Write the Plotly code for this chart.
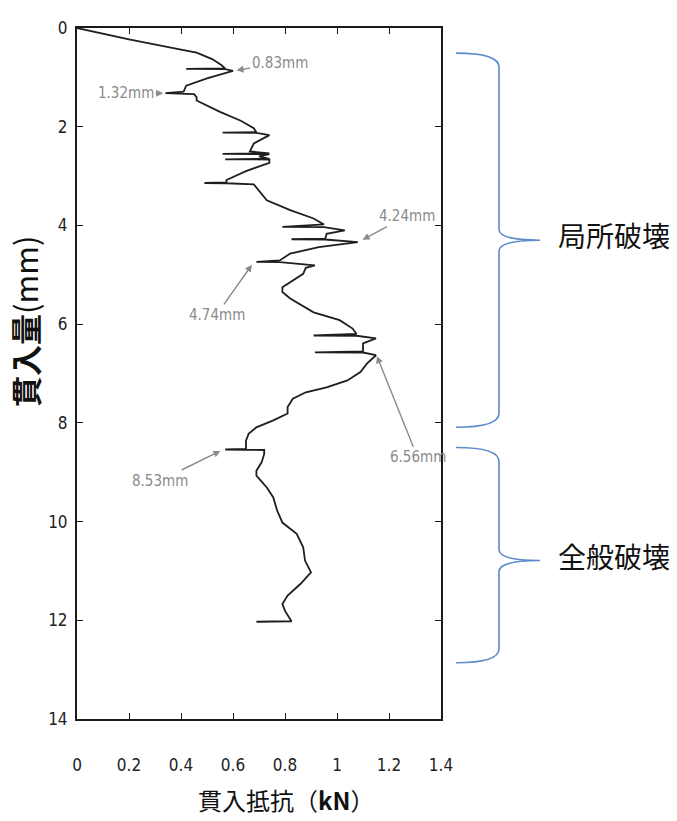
import plotly.graph_objects as go

# ---------------- data ----------------
LOAD_KN = [
    0.00, 0.20, 0.40, 0.46, 0.52, 0.555, 0.57,
    0.42, 0.57, 0.60, 0.50, 0.42, 0.41,
    0.34, 0.41, 0.45, 0.46, 0.46, 0.55, 0.63, 0.68, 0.69,
    0.56, 0.69, 0.74, 0.68, 0.665, 0.74,
    0.56, 0.74, 0.70, 0.74,
    0.57, 0.74, 0.74, 0.65, 0.575, 0.575,
    0.49, 0.575, 0.68, 0.70, 0.73, 0.82, 0.91, 0.95,
    0.79, 0.95, 1.03, 0.96, 0.955,
    0.825, 0.955, 1.08, 0.93, 0.82, 0.78,
    0.69, 0.78, 0.915, 0.88, 0.87, 0.83, 0.79, 0.79, 0.82, 0.91, 1.01, 1.06, 1.075,
    0.91, 1.075, 1.15, 1.10, 1.10,
    0.915, 1.10, 1.15, 1.115, 1.09, 1.04, 0.96, 0.88, 0.83, 0.81, 0.81, 0.755, 0.69, 0.66, 0.65, 0.65,
    0.57, 0.65, 0.72, 0.72, 0.71, 0.69, 0.69, 0.73, 0.755, 0.77, 0.79, 0.845, 0.87, 0.877, 0.90,
    0.86, 0.81, 0.79, 0.80, 0.825, 0.69,
]
DEPTH_MM = [
    0.00, 0.23, 0.44, 0.50, 0.63, 0.75, 0.82,
    0.83, 0.835, 0.87, 1.02, 1.17, 1.29,
    1.32, 1.325, 1.34, 1.40, 1.47, 1.70, 1.88, 2.03, 2.11,
    2.12, 2.125, 2.17, 2.34, 2.50, 2.54,
    2.55, 2.555, 2.60, 2.65,
    2.66, 2.665, 2.73, 2.90, 3.08, 3.13,
    3.14, 3.145, 3.17, 3.29, 3.49, 3.69, 3.86, 3.98,
    4.03, 4.035, 4.10, 4.17, 4.27,
    4.28, 4.285, 4.34, 4.44, 4.57, 4.71,
    4.74, 4.745, 4.81, 4.86, 4.98, 5.11, 5.25, 5.35, 5.48, 5.76, 5.92, 6.09, 6.20,
    6.23, 6.235, 6.29, 6.39, 6.55,
    6.57, 6.575, 6.63, 6.80, 6.97, 7.14, 7.28, 7.38, 7.51, 7.68, 7.81, 7.95, 8.09, 8.22, 8.36, 8.53,
    8.54, 8.545, 8.55, 8.63, 8.80, 8.97, 9.07, 9.31, 9.51, 9.78, 10.02, 10.25, 10.52, 10.79, 11.03,
    11.26, 11.50, 11.67, 11.81, 12.02, 12.03,
]

X_TICKS = [0, 0.2, 0.4, 0.6, 0.8, 1.0, 1.2, 1.4]
X_TICK_LABELS = ["0", "0.2", "0.4", "0.6", "0.8", "1", "1.2", "1.4"]
Y_TICKS = [0, 2, 4, 6, 8, 10, 12, 14]
Y_TICK_LABELS = ["0", "2", "4", "6", "8", "10", "12", "14"]

# annotated drop points (label, load at arrow head, depth at arrow head)
MARK_LABELS = ["0.83mm", "1.32mm", "4.24mm", "4.74mm", "6.56mm", "8.53mm"]
MARK_LOAD = [0.61, 0.335, 1.095, 0.675, 1.152, 0.555]
MARK_DEPTH = [0.86, 1.32, 4.30, 4.78, 6.63, 8.56]

# failure zones (label, start depth, tip depth, end depth)
ZONE_LABELS = ["局所破壊", "全般破壊"]
ZONE_START = [0.51, 8.50]
ZONE_TIP = [4.30, 10.79]
ZONE_END = [8.09, 12.86]

X_TITLE = "貫入抵抗（<b>kN</b>）"
Y_TITLE = "<b>貫入量</b>(mm)"

# ---------------- layout constants ----------------
W, H = 677, 821
ML, MR, MT, MB = 77, 236, 28, 102
PW = W - ML - MR
PH = H - MT - MB
YMAX = 14.0

NARROW = "Liberation Sans Narrow, Arial Narrow, DejaVu Sans Condensed, Liberation Sans, sans-serif"
CJK = "Noto Sans CJK JP, Noto Sans CJK SC, sans-serif"


def px_x(px):
    return (px - ML) / PW


def py_y(py):
    return 1 - (py - MT) / PH


def depth_to_paper(d):
    return 1 - d / YMAX


fig = go.Figure()
fig.add_trace(go.Scatter(
    x=LOAD_KN, y=DEPTH_MM, mode="lines",
    line=dict(color="#1e1e1e", width=1.8),
    hoverinfo="skip", showlegend=False,
))

# label text offsets (pixels relative to arrow head)
label_offsets = [(44, -7), (-38, 0), (45, -24), (-36, 51), (41, 102), (-61, 30)]
annotations = []
for lab, lx, ly, (dx, dy) in zip(MARK_LABELS, MARK_LOAD, MARK_DEPTH, label_offsets):
    annotations.append(dict(
        x=lx, y=ly, xref="x", yref="y", text=lab, showarrow=True,
        ax=dx, ay=dy, arrowhead=2, arrowsize=1, arrowwidth=1.4,
        arrowcolor="#8a8a8a", standoff=1, startstandoff=0,
        font=dict(family=NARROW, size=15, color="#8a8a8a"),
    ))

# axis titles
annotations.append(dict(
    x=px_x(286), y=py_y(799), xref="paper", yref="paper", text=X_TITLE,
    showarrow=False, font=dict(family=CJK, size=24, color="#111"),
    xanchor="center", yanchor="middle",
))
annotations.append(dict(
    x=px_x(25), y=py_y(322), xref="paper", yref="paper", text=Y_TITLE,
    showarrow=False, textangle=-90, font=dict(family=CJK, size=31, color="#111"),
    xanchor="center", yanchor="middle",
))

# braces
shapes = []
x0, xv, xt = px_x(456), px_x(499), px_x(540)
c_end = 14 / PH
c_tip = 11 / PH
for lab, ds, dt, de in zip(ZONE_LABELS, ZONE_START, ZONE_TIP, ZONE_END):
    yt, ym, yb = depth_to_paper(ds), depth_to_paper(dt), depth_to_paper(de)
    path = (
        f"M {x0},{yt} Q {xv},{yt} {xv},{yt - c_end} "
        f"L {xv},{ym + c_tip} Q {xv},{ym} {xt},{ym} "
        f"Q {xv},{ym} {xv},{ym - c_tip} "
        f"L {xv},{yb + c_end} Q {xv},{yb} {x0},{yb}"
    )
    shapes.append(dict(type="path", path=path, xref="paper", yref="paper",
                       line=dict(color="#5b8bc9", width=1.6)))
    annotations.append(dict(
        x=px_x(556), y=ym + 5 / PH, xref="paper", yref="paper", text=lab,
        showarrow=False, xanchor="left", yanchor="middle",
        font=dict(family=CJK, size=28, color="#111"),
    ))

axis_common = dict(
    showgrid=False, zeroline=False, showline=True, linecolor="#1a1a1a",
    linewidth=2, mirror="ticks", ticks="inside", ticklen=6, tickwidth=1,
    tickcolor="#1a1a1a",
    tickfont=dict(family=NARROW, size=17, color="#222"),
)

fig.update_layout(
    width=W, height=H, autosize=False,
    margin=dict(l=ML, r=MR, t=MT, b=MB),
    paper_bgcolor="white", plot_bgcolor="white",
    xaxis=dict(range=[0, 1.4], tickvals=X_TICKS, ticktext=X_TICK_LABELS,
               ticklabelstandoff=30, **axis_common),
    yaxis=dict(range=[YMAX, 0], tickvals=Y_TICKS, ticktext=Y_TICK_LABELS,
               ticklabelstandoff=4, **axis_common),
    annotations=annotations,
    shapes=shapes,
    showlegend=False,
)

fig.write_html(
    "out.html",
    config={"displayModeBar": False},
    post_script="document.body.style.margin='0';document.body.style.padding='0';"
                "document.documentElement.style.overflow='hidden';",
)
